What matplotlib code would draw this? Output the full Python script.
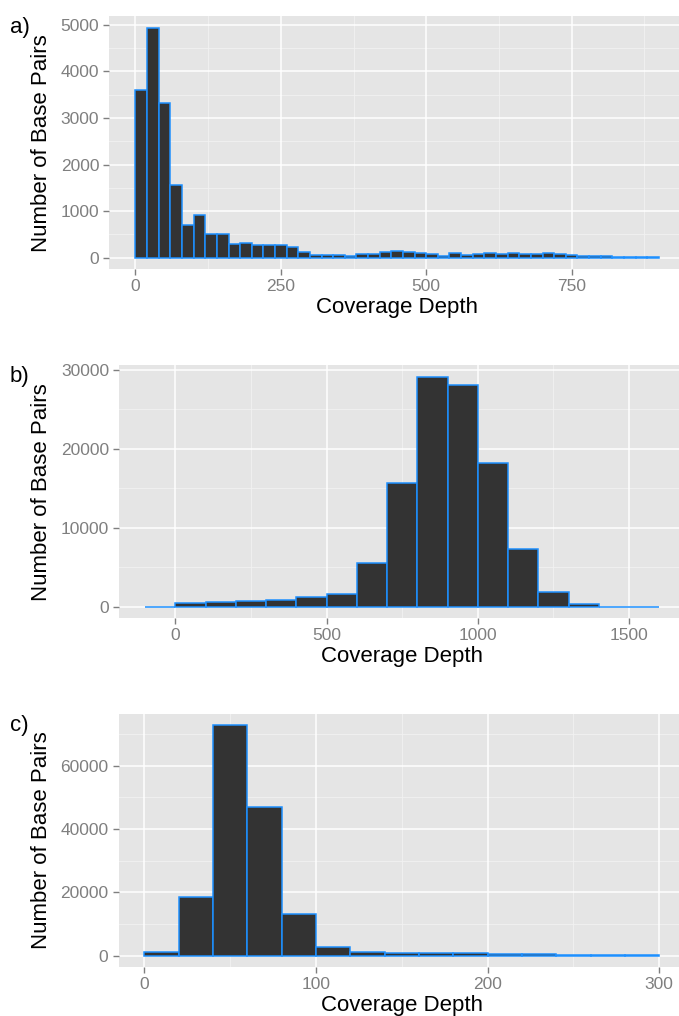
import matplotlib
matplotlib.use('Agg')
import matplotlib.pyplot as plt
import numpy as np

plt.rcParams['font.family'] = ['Liberation Sans', 'DejaVu Sans']

# a) coverage depth histogram, bins of 20 from 0 to 900
a_edges = np.arange(0, 900, 20)
a_counts = [3600, 4940, 3310, 1557, 714, 921, 500, 521, 293, 321,
            264, 279, 264, 232, 114, 68, 57, 50, 36, 71,
            79, 121, 136, 121, 100, 79, 43, 93, 64, 79,
            100, 71, 100, 79, 79, 107, 71, 57, 43, 29,
            36, 21, 14, 14, 7]

# b) bins of 100 from -100 to 1600
b_edges = np.arange(-100, 1600, 100)
b_counts = [0, 507, 591, 718, 845, 1183, 1605, 5492, 15631, 29150,
            28094, 18166, 7309, 1859, 338, 0, 0]

# c) bins of 20 from 0 to 300
c_edges = np.arange(0, 300, 20)
c_counts = [1053, 18526, 72737, 46842, 13158, 2842, 1263, 900, 800, 750,
            600, 450, 300, 200, 150]

W, H = 679, 1016
fig = plt.figure(figsize=(W / 100, H / 100), dpi=100)


def panel(rect_px, edges, counts, width, xlim, ylim, xticks, xminor, yticks, yminor, tag):
  left, top, right, bottom = rect_px
  ax = fig.add_axes([left / W, 1 - bottom / H, (right - left) / W, (bottom - top) / H])
  ax.set_facecolor('#E5E5E5')
  for v in xminor:
    ax.axvline(v, color='#F2F2F2', lw=0.6, zorder=0)
  for v in yminor:
    ax.axhline(v, color='#F2F2F2', lw=0.6, zorder=0)
  for v in xticks:
    ax.axvline(v, color='white', lw=1.1, zorder=0.5)
  for v in yticks:
    ax.axhline(v, color='white', lw=1.1, zorder=0.5)

  ax.bar(edges, counts, width=width, align='edge', color='#333333',
         edgecolor='#1E90FF', linewidth=1.1, zorder=2)

  ax.set_xlim(*xlim)
  ax.set_ylim(*ylim)
  ax.set_xticks(xticks)
  ax.set_yticks(yticks)
  ax.set_xticklabels([str(t) for t in xticks])
  ax.set_yticklabels([str(t) for t in yticks])
  for s in ax.spines.values():
    s.set_visible(False)
  ax.tick_params(axis='both', colors='#7F7F7F', labelcolor='#7F7F7F',
                 length=4.3, width=1.0, labelsize=12.5, pad=3)
  ax.set_xlabel('Coverage Depth', fontsize=16, labelpad=2)

  ycen = 1 - (top + bottom) / 2 / H
  fig.text(42 / W, ycen, 'Number of Base Pairs', rotation=90,
           ha='center', va='center', fontsize=16)
  fig.text(10 / W, 1 - (top + 1) / H, tag, ha='left', va='top', fontsize=16)
  return ax


panel((109.3, 16, 685, 269.3), a_edges, a_counts, 20,
      (-45, 945), (-247, 5187), [0, 250, 500, 750], [125, 375, 625, 875],
      [0, 1000, 2000, 3000, 4000, 5000], [500, 1500, 2500, 3500, 4500], 'a)')

panel((119.3, 365.2, 685, 618.2), b_edges, b_counts, 100,
      (-185, 1685), (-1457, 30607), [0, 500, 1000, 1500], [250, 750, 1250],
      [0, 10000, 20000, 30000], [5000, 15000, 25000], 'b)')

panel((118.5, 713.8, 685, 967.2), c_edges, c_counts, 20,
      (-15, 315), (-3637, 76374), [0, 100, 200, 300], [50, 150, 250],
      [0, 20000, 40000, 60000], [10000, 30000, 50000, 70000], 'c)')

fig.savefig('out.png', dpi=100)
